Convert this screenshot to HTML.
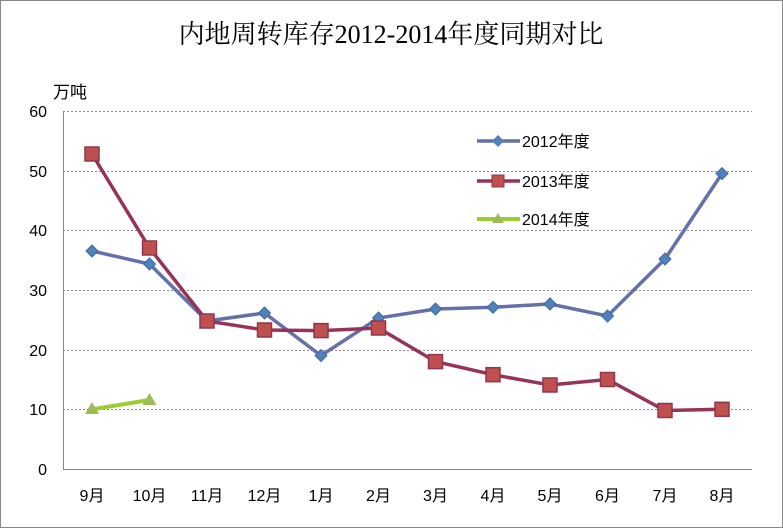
<!DOCTYPE html>
<html><head><meta charset="utf-8"><style>
body{margin:0;background:#fff}
svg{display:block}
text{font-family:"Liberation Sans","Noto Sans CJK SC",sans-serif;fill:#000}
</style></head><body>
<svg width="783" height="528" viewBox="0 0 783 528" xmlns="http://www.w3.org/2000/svg">
<rect x="0.5" y="0.5" width="782" height="527" fill="#fff" stroke="#888"/>
<text x="391" y="43" font-size="26" text-anchor="middle" style="font-family:'Liberation Serif','Noto Serif CJK SC',serif">内地周转库存2012-2014年度同期对比</text>
<text x="53" y="98" font-size="17">万吨</text>
<g stroke="#888" stroke-dasharray="2,2" stroke-width="1">
<line x1="63" y1="111.5" x2="752" y2="111.5"/><line x1="63" y1="171.5" x2="752" y2="171.5"/>
<line x1="63" y1="230.5" x2="752" y2="230.5"/><line x1="63" y1="290.5" x2="752" y2="290.5"/>
<line x1="63" y1="350.5" x2="752" y2="350.5"/><line x1="63" y1="409.5" x2="752" y2="409.5"/>
</g>
<line x1="63.5" y1="111" x2="63.5" y2="469" stroke="#888"/>
<line x1="63" y1="469.5" x2="752" y2="469.5" stroke="#888"/>
<g font-size="16" text-anchor="end">
<text x="47" y="117">60</text><text x="47" y="177">50</text><text x="47" y="236">40</text><text x="47" y="296">30</text><text x="47" y="356">20</text><text x="47" y="415">10</text><text x="47" y="475">0</text>
</g>
<g font-size="16" text-anchor="middle">
<text x="92" y="501">9月</text><text x="149.5" y="501">10月</text><text x="207" y="501">11月</text><text x="264.5" y="501">12月</text><text x="321" y="501">1月</text><text x="378.5" y="501">2月</text><text x="435.5" y="501">3月</text><text x="493" y="501">4月</text><text x="550" y="501">5月</text><text x="607.5" y="501">6月</text><text x="665" y="501">7月</text><text x="722" y="501">8月</text>
</g>
<polyline fill="none" stroke="#6470A8" stroke-width="3.5" points="92,251 149.5,264 207,321 264.5,313 321,355.6 378.5,318 435.5,309 493,307.3 550,304 607.5,316 665,259 722,173.6"/>
<g fill="#4F81BD" stroke="#3D6AA0" stroke-width="1">
<polygon points="92,245 98,251 92,257 86,251"/><polygon points="149.5,258 155.5,264 149.5,270 143.5,264"/><polygon points="207,315 213,321 207,327 201,321"/><polygon points="264.5,307 270.5,313 264.5,319 258.5,313"/><polygon points="321,349.6 327,355.6 321,361.6 315,355.6"/><polygon points="378.5,312 384.5,318 378.5,324 372.5,318"/><polygon points="435.5,303 441.5,309 435.5,315 429.5,309"/><polygon points="493,301.3 499,307.3 493,313.3 487,307.3"/><polygon points="550,298 556,304 550,310 544,304"/><polygon points="607.5,310 613.5,316 607.5,322 601.5,316"/><polygon points="665,253 671,259 665,265 659,259"/><polygon points="722,167.6 728,173.6 722,179.6 716,173.6"/>
</g>
<polyline fill="none" stroke="#953458" stroke-width="3.5" points="92,154 149.5,248 207,321 264.5,330 321,330.6 378.5,328 435.5,361.6 493,374.7 550,385 607.5,379.5 665,410.5 722,409.3"/>
<g fill="#C0504D" stroke="#8C3850" stroke-width="1.5">
<rect x="85" y="147" width="14" height="14"/><rect x="142.5" y="241" width="14" height="14"/><rect x="200" y="314" width="14" height="14"/><rect x="257.5" y="323" width="14" height="14"/><rect x="314" y="323.6" width="14" height="14"/><rect x="371.5" y="321" width="14" height="14"/><rect x="428.5" y="354.6" width="14" height="14"/><rect x="486" y="367.7" width="14" height="14"/><rect x="543" y="378" width="14" height="14"/><rect x="600.5" y="372.5" width="14" height="14"/><rect x="658" y="403.5" width="14" height="14"/><rect x="715" y="402.3" width="14" height="14"/>
</g>
<polyline fill="none" stroke="#9ACD32" stroke-width="4" points="92,409.3 149.5,400"/>
<g fill="#9BBB59"><polygon points="92,402 99,414 85,414"/><polygon points="149.5,393 156.5,405 142.5,405"/></g>
<line x1="477" y1="141" x2="520" y2="141" stroke="#6470A8" stroke-width="3.5"/>
<polygon points="498,135 504,141 498,147 492,141" fill="#4F81BD"/>
<text x="522" y="147" font-size="16">2012年度</text>
<line x1="477" y1="181" x2="520" y2="181" stroke="#953458" stroke-width="3.5"/>
<rect x="492" y="175" width="12" height="12" fill="#C0504D" stroke="#8C3850"/>
<text x="522" y="187" font-size="16">2013年度</text>
<line x1="477" y1="219" x2="520" y2="219" stroke="#9ACD32" stroke-width="4"/>
<polygon points="498,213 504,223 492,223" fill="#9BBB59"/>
<text x="522" y="225" font-size="16">2014年度</text>
</svg>
</body></html>
